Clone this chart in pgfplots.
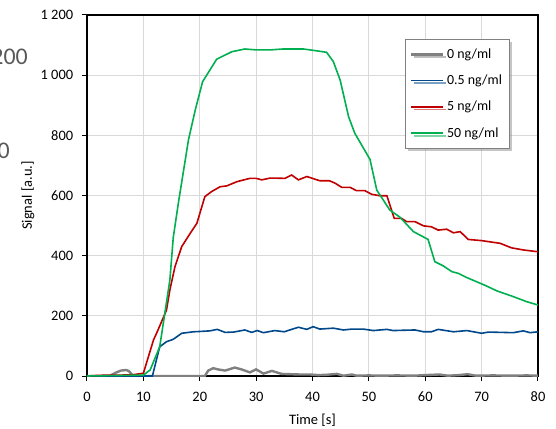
\documentclass[border=0pt]{standalone}
\usepackage{fontspec}
\setmainfont{Carlito}
\usepackage{pgfplots}
\pgfplotsset{compat=1.18}
\usetikzlibrary{shadows}
\definecolor{cgray}{RGB}{128,128,128}
\definecolor{cblue}{RGB}{0,72,138}
\definecolor{cred}{RGB}{192,0,0}
\definecolor{cgreen}{RGB}{0,176,80}
\definecolor{gridc}{RGB}{217,217,217}
\definecolor{txt}{RGB}{89,89,89}
\begin{document}
\fontsize{14}{16}\selectfont
\begin{tikzpicture}
\path[use as bounding box] (-87bp,-53bp) rectangle (469bp,376bp);
\begin{axis}[
    at={(0,0)}, anchor=south west,
    scale only axis,
    width=451bp, height=361bp,
    xmin=0, xmax=80, ymin=0, ymax=1200,
    xtick={0,10,...,80},
    ytick={0,200,...,1200},
    grid=major,
    grid style={gridc, line width=1.2bp},
    axis line style={black, line width=1.2bp},
    tick align=outside,
    tick pos=left,
    major tick length=5bp,
    tick style={black, line width=1bp},
    /pgf/number format/.cd, 1000 sep={\ }, assume math mode=true,
    /pgfplots/.cd,
    every tick label/.append style={font=\fontsize{14.5}{16}\selectfont},
    xticklabel style={yshift=-6bp},
    yticklabel style={xshift=-4bp},
    xlabel={Time [s]},
    ylabel={Signal [a.u.]},
    label style={font=\fontsize{14.5}{16}\selectfont},
    xlabel style={at={(axis description cs:0.5,-0.1219)}, anchor=center},
    ylabel style={at={(axis description cs:-0.1308,0.5)}, anchor=center},
    legend cell align=left,
    legend image code/.code={\draw[#1] (0bp,0bp) -- (32bp,0bp);},
    legend style={at={(rel axis cs:0.705,0.9327)}, anchor=north west,
        font=\fontsize{14}{16}\selectfont,
        draw=cgray, fill=white, row sep=9.5bp,
        inner xsep=5bp, inner ysep=6.5bp,
        nodes={inner sep=2.5bp},
        drop shadow={shadow xshift=2.5bp, shadow yshift=-2.5bp, fill=black!45}},
]
\addplot[cgray, line width=2.4bp] coordinates {
(0,0) (1,0) (2,0) (3,0) (4,0) (5,10) (6,18) (7,20) (7.5,15) (8.2,0) (9,0) (12,0) (16,0) (20.9,0)
(21.5,18) (22.4,26) (23.2,22) (24.5,18) (26.2,28) (27.4,22) (28.9,12) (30,22) (31.3,8)
(32.8,17) (34.5,7) (36,6) (37.8,5) (39.6,5) (41,3) (42.5,4) (44.3,7) (45.5,1) (47,5)
(47.8,1) (50,2) (52,1) (55,2) (58,1) (60,3) (62.5,5) (64,1) (66,3) (67.5,6) (69,1)
(72,2) (75,1) (78,2) (80,1)};
\addlegendentry{0 ng/ml}
\addplot[cblue, line width=1.6bp] coordinates {
(0,0) (11.6,0) (12.9,97) (14.1,114) (15.3,122) (16.8,142) (18.9,147) (20,148) (21.8,150)
(23.1,155) (24.5,145) (26,146) (28,153) (29.2,145) (30.2,151) (31.3,144) (33.3,151)
(35,147) (36.3,155) (37.5,162) (39,155) (40.1,164) (41.3,156) (43.7,159) (45.5,153)
(47,156) (49,156) (50.8,151) (53.2,155) (54.3,151) (56,152) (58.2,153) (59.7,147)
(61.1,147) (62.3,155) (65,147) (67.4,151) (70,142) (71.2,146) (73.5,145) (75.6,144)
(77.4,150) (78.6,144) (80,147)};
\addlegendentry{0.5 ng/ml}
\addplot[cred, line width=1.6bp] coordinates {
(0,0) (2,2) (4,3) (6,3) (8,4) (10,9) (11.8,120) (12.6,153) (14.1,219) (14.7,286)
(15.6,363) (16.8,430) (18.3,474) (19.5,508) (20.9,596) (22.1,613) (23.6,629) (24.8,632)
(26.6,646) (28.9,657) (30,657) (31,652) (32.5,658) (35.1,657) (36.3,668) (37.5,652)
(39,663) (41.3,649) (43,649) (44,641) (45.2,627) (46.7,627) (47.8,616) (49.3,616)
(50.5,604) (52,599) (53.2,599) (54.5,524) (55.8,524) (56.7,513) (58.2,513) (59.7,499)
(61.1,496) (62.3,485) (63.8,488) (65,476) (66.2,480) (67.6,454) (70,450) (73.3,441)
(75.3,426) (77.4,419) (80,413)};
\addlegendentry{5 ng/ml}
\addplot[cgreen, line width=1.6bp] coordinates {
(0,0) (10,3) (11.2,20) (12.9,97) (13.8,208) (14.7,319) (15.3,460) (16.2,574) (18,785)
(19.2,884) (20.5,978) (23,1053) (25.7,1078) (28,1087) (30,1084) (32.5,1084) (34.8,1087)
(38.4,1087) (40.7,1081) (42.5,1076) (43.7,1045) (44.9,984) (46.4,862) (47.5,807)
(50.2,720) (51.4,618) (53.7,552) (55.5,528) (57.9,480) (60.5,454) (61.7,380) (63.2,366)
(64.7,347) (65.9,341) (67.4,327) (70.9,299) (72.7,283) (75.6,264) (78,247) (80,236)};
\addlegendentry{50 ng/ml}
\end{axis}
\node[anchor=east, text=txt, font=\fontsize{24}{28}\selectfont, inner sep=0pt] at (-59bp,319bp) {200};
\node[anchor=east, text=txt, font=\fontsize{24}{28}\selectfont, inner sep=0pt] at (-77bp,225bp) {0};
\end{tikzpicture}
\end{document}
